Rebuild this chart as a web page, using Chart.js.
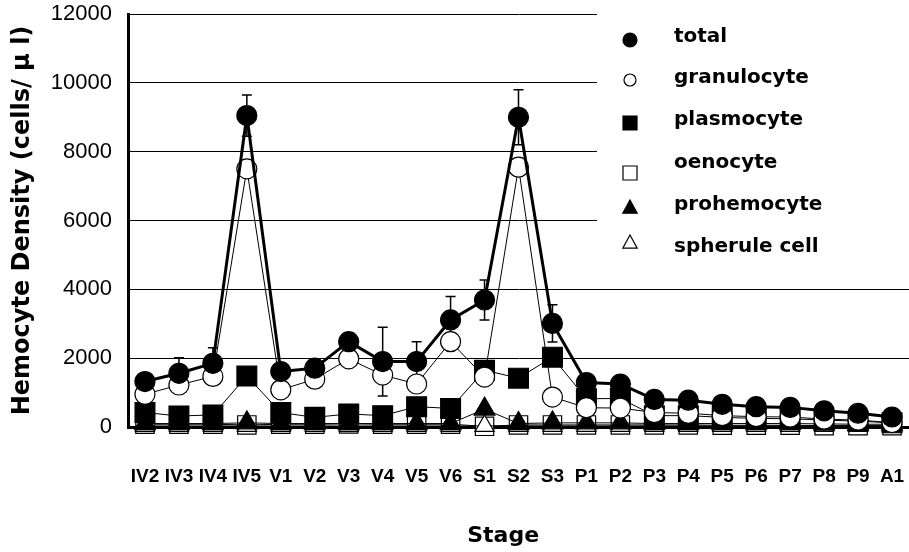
<!DOCTYPE html>
<html><head><meta charset="utf-8">
<script src="https://cdn.jsdelivr.net/npm/chart.js@4"></script>
<style>html,body{margin:0;padding:0;background:#fff}canvas{display:block}</style>
</head><body>
<canvas id="c" width="909" height="552"></canvas>
<script>
const stages = ['IV2','IV3','IV4','IV5','V1','V2','V3','V4','V5','V6','S1','S2','S3','P1','P2','P3','P4','P5','P6','P7','P8','P9','A1'];
const total       = [1320,1560,1850,9050,1610,1710,2480,1900,1900,3110,3690,9000,3010,1290,1250,800,780,660,590,570,470,400,290];
const totalErr    = [0,450,450,600,0,0,0,1000,580,680,580,800,540,0,0,0,0,0,0,0,0,0,0];
const granulocyte = [950,1220,1470,7500,1080,1390,1980,1510,1250,2480,1450,7550,870,560,550,420,400,330,300,290,230,200,130];
const plasmocyte  = [420,320,350,1480,420,280,380,330,590,540,1650,1420,2030,820,830,330,330,280,250,240,200,170,120];
const oenocyte    = [80,80,80,60,80,80,90,80,80,80,20,60,60,60,60,60,60,50,50,50,40,40,40];
const prohemocyte = [100,100,100,120,100,100,100,100,100,100,520,100,120,120,120,100,100,100,100,100,90,80,80];
const spherule    = [30,30,30,30,30,30,30,30,30,30,30,30,30,30,30,30,30,30,30,30,30,30,30];
const yTicks = [0,2000,4000,6000,8000,10000,12000];

const legendItems = [
  {style:'circle', fill:'#000', r:7, my:40, ty:37},
  {style:'circle', fill:'#fff', r:6, my:80, ty:78},
  {style:'rect', fill:'#000', r:7, my:123, ty:120},
  {style:'rect', fill:'#fff', r:7, my:173, ty:163},
  {style:'triangle', fill:'#000', r:8, my:208, ty:205},
  {style:'triangle', fill:'#fff', r:8, my:243, ty:247}
];

const legendBox = {
  id:'legendBox',
  beforeDatasetsDraw(chart){
    const ctx = chart.ctx;
    ctx.save();
    ctx.fillStyle = '#fff';
    ctx.fillRect(597, 0, 312, 272);
    const mx = 630;
    legendItems.forEach((it, i) => {
      ctx.beginPath();
      ctx.lineWidth = 1.2;
      ctx.strokeStyle = '#000';
      ctx.fillStyle = it.fill;
      if (it.style === 'circle') {
        ctx.arc(mx, it.my, it.r, 0, Math.PI*2);
      } else if (it.style === 'rect') {
        ctx.rect(mx - it.r, it.my - it.r, it.r*2, it.r*2);
      } else {
        ctx.moveTo(mx, it.my - it.r);
        ctx.lineTo(mx + it.r*0.9, it.my + it.r*0.65);
        ctx.lineTo(mx - it.r*0.9, it.my + it.r*0.65);
        ctx.closePath();
      }
      ctx.fill(); ctx.stroke();
      ctx.fillStyle = '#000';
      ctx.font = 'bold 20px "DejaVu Sans"';
      ctx.textBaseline = 'middle';
      ctx.textAlign = 'left';
      ctx.fillText(chart.data.datasets[i].label, 674, it.ty);
    });
    ctx.restore();
  }
};

const errorBars = {
  id:'errorBars',
  beforeDatasetsDraw(chart){
    const ctx = chart.ctx, xs = chart.scales.x, ys = chart.scales.y;
    ctx.save();
    ctx.strokeStyle = '#000';
    ctx.lineWidth = 1.5;
    totalErr.forEach((e, i) => {
      if (!e) return;
      const px = xs.getPixelForValue(i);
      const t = ys.getPixelForValue(total[i] + e);
      const b = ys.getPixelForValue(total[i] - e);
      ctx.beginPath();
      ctx.moveTo(px, t); ctx.lineTo(px, b);
      ctx.moveTo(px - 5, t); ctx.lineTo(px + 5, t);
      ctx.moveTo(px - 5, b); ctx.lineTo(px + 5, b);
      ctx.stroke();
    });
    ctx.restore();
  }
};

function ds(label, data, style, fill, r, bw, order){
  return {label, data, order, borderColor:'#000', borderWidth:bw, backgroundColor:fill,
    pointStyle:style, pointRadius:r, pointHoverRadius:r, pointBackgroundColor:fill,
    pointBorderColor:'#000', pointBorderWidth:1.2, tension:0, clip:false};
}

new Chart(document.getElementById('c'), {
  type:'line',
  data:{
    labels: stages,
    datasets:[
      ds('total', total, 'circle', '#000', 10, 3, 0),
      ds('granulocyte', granulocyte, 'circle', '#fff', 10, 1, 1),
      ds('plasmocyte', plasmocyte, 'rect', '#000', 14, 1, 2),
      ds('oenocyte', oenocyte, 'rect', '#fff', 13, 1, 5),
      ds('prohemocyte', prohemocyte, 'triangle', '#000', 12, 1, 3),
      ds('spherule cell', spherule, 'triangle', '#fff', 11, 1, 4)
    ]
  },
  options:{
    responsive:false,
    animation:false,
    devicePixelRatio:1,
    layout:{autoPadding:false, padding:{top:14,right:0,left:0,bottom:0}},
    plugins:{legend:{display:false}, title:{display:false}, subtitle:{display:false}, tooltip:{enabled:false}},
    scales:{
      x:{
        offset:true,
        grid:{display:true, drawOnChartArea:false, drawTicks:true, tickLength:38, tickColor:'rgba(0,0,0,0)'},
        border:{display:true, color:'#000', width:3},
        ticks:{color:'#000', autoSkip:false, maxRotation:0, minRotation:0, padding:0,
          font:{family:"'Liberation Sans', Arial", weight:'bold', size:19}},
        title:{display:true, text:'Stage    ', color:'#000', padding:{top:0,bottom:3},
          font:{family:'DejaVu Sans', weight:'bold', size:22}},
        afterFit(s){ s.height = 125; s.paddingLeft = 0; s.paddingRight = 0; }
      },
      y:{
        min:0, max:12000,
        afterBuildTicks(s){ s.ticks = yTicks.map(v => ({value:v})); },
        grid:{color:'#000', lineWidth:1, drawTicks:false},
        border:{display:true, color:'#000', width:3},
        ticks:{color:'#000', padding:16, callback:(v) => String(v),
          font:{family:"'Liberation Sans', Arial", size:22, lineHeight:1}},
        title:{display:true, text:'Hemocyte Density (cells/ μ l)', color:'#000', padding:{top:8,bottom:0},
          font:{family:'DejaVu Sans', weight:'bold', size:24}},
        afterFit(s){ s.width = 128; s.paddingTop = 0; s.paddingBottom = 0; }
      }
    }
  },
  plugins:[legendBox, errorBars]
});
</script>
</body></html>
